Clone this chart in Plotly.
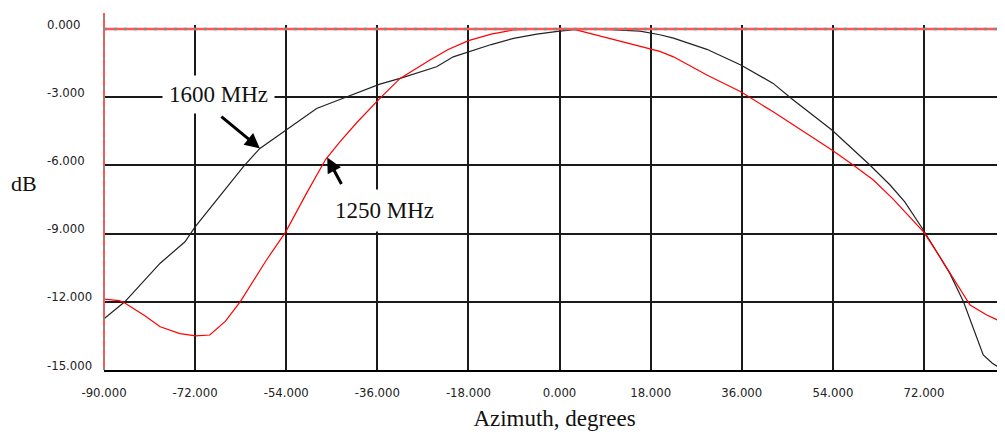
import plotly.graph_objects as go

# ---- data ----
az_1600 = [-90, -85.9, -78.9, -74, -72, -69.1, -65.5, -62.5, -59.2, -54, -48, -43.4, -39.5, -35.5,
           -31.5, -27.5, -24.3, -21, -18, -13.5, -9.1, -4.5, 0, 4, 10, 15.9, 19.8, 22.5, 29.1,
           35.8, 42.2, 45.8, 53.8, 61.3, 65.3, 68.2, 71.9, 77.1, 79.8, 81.7, 83.7, 85.5, 87.5]
db_1600 = [-12.75, -12.0, -10.3, -9.36, -8.7, -7.89, -6.9, -6.06, -5.25, -4.44, -3.49, -3.1, -2.75, -2.42,
           -2.17, -1.9, -1.66, -1.22, -1.0, -0.68, -0.41, -0.22, -0.09, 0.0, -0.02, -0.09, -0.25, -0.4, -0.89,
           -1.58, -2.39, -3.05, -4.44, -5.98, -6.86, -7.6, -8.85, -10.75, -12.0, -13.1, -14.34, -14.7, -15.0]

az_1250 = [-90, -87, -85.9, -82, -78.9, -75, -71.9, -69.1, -66, -63.1, -57.9, -54.1, -50, -46.2, -43.4,
           -40, -35.5, -31.5, -25.6, -22, -18, -13.5, -9.1, -4, 2.7, 7.3, 11.5, 15.9, 19.8, 22.5,
           29.1, 35.8, 42.2, 48.8, 53.8, 58.0, 62, 66, 68.5, 71.9, 74.5, 77.8, 81.1, 84.4, 88]
db_1250 = [-11.88, -11.95, -12.05, -12.6, -13.1, -13.4, -13.5, -13.46, -12.85, -12.0, -10.16, -8.92, -7.23, -5.73, -4.96,
           -4.1, -3.05, -2.17, -1.36, -0.9, -0.51, -0.22, -0.04, 0.0, 0.0, -0.26, -0.5, -0.75, -0.98, -1.22,
           -2.02, -2.76, -3.64, -4.59, -5.32, -5.98, -6.64, -7.5, -8.1, -8.92, -9.8, -10.97, -12.14, -12.58, -12.95]

x_ticks = [-90, -72, -54, -36, -18, 0, 18, 36, 54, 72]
x_labels = ["-90.000", "-72.000", "-54.000", "-36.000", "-18.000", "0.000", "18.000", "36.000", "54.000", "72.000"]
y_ticks = [0, -3, -6, -9, -12, -15]
y_labels = ["0.000", "-3.000", "-6.000", "-9.000", "-12.000", "-15.000"]

TICKFONT = dict(family="Liberation Sans Narrow, DejaVu Sans Condensed, Liberation Sans, Arial", size=13, color="#222")
SERIF = "Liberation Serif, Times New Roman, serif"
GRID = "#1a1a1a"

fig = go.Figure()
fig.add_trace(go.Scatter(x=az_1600, y=db_1600, mode="lines", line=dict(color="#222222", width=1.2),
                         name="1600 MHz", showlegend=False))
fig.add_trace(go.Scatter(x=az_1250, y=db_1250, mode="lines", line=dict(color="#ff0000", width=1.2),
                         name="1250 MHz", showlegend=False))

fig.update_layout(
    width=997, height=427,
    margin=dict(l=96, r=0, t=17, b=65),
    paper_bgcolor="white", plot_bgcolor="white",
    xaxis=dict(range=[-90, 88], tickmode="array", tickvals=x_ticks, ticktext=x_labels,
               showgrid=True, gridcolor=GRID, gridwidth=1.5, zeroline=False,
               showline=True, linecolor="black", linewidth=2, ticks="",
               tickfont=TICKFONT, ticklabelstandoff=9,
               title=dict(text="Azimuth, degrees", font=dict(family=SERIF, size=23, color="#111"), standoff=11)),
    yaxis=dict(range=[-15, 0.18], tickmode="array", tickvals=y_ticks, showticklabels=False,
               showgrid=True, gridcolor=GRID, gridwidth=1.5, zeroline=False, showline=False, ticks=""),
)

# y tick labels (left aligned, as in the reference)
for v, t in zip(y_ticks, y_labels):
    fig.add_annotation(x=0, xref="paper", y=v, yref="y", text=t, showarrow=False,
                       xanchor="left", yanchor="middle", xshift=-59, yshift=5, font=TICKFONT)

# red zero line with gray dashes, red left axis with gray dashes
fig.add_shape(type="line", xref="paper", x0=0, x1=1, yref="y", y0=0, y1=0,
              line=dict(color="#ff5555", width=2.5), layer="above")
fig.add_shape(type="line", xref="paper", x0=0, x1=1, yref="y", y0=0, y1=0,
              line=dict(color="#888888", width=2.5, dash="3px,7px"), layer="above")
fig.add_shape(type="line", xref="paper", x0=0, x1=0, yref="paper", y0=0, y1=1.035,
              line=dict(color="#ff5555", width=2), layer="above")
fig.add_shape(type="line", xref="paper", x0=0, x1=0, yref="paper", y0=0, y1=1.035,
              line=dict(color="#888888", width=2, dash="3px,7px"), layer="above")

# axis label dB
fig.add_annotation(x=0, xref="paper", xshift=-80, y=0.542, yref="paper", text="dB", showarrow=False,
                   font=dict(family=SERIF, size=22, color="#111"), xanchor="center", yanchor="middle")

# series labels
fig.add_annotation(x=-67.3, y=-2.86, text="1600 MHz", showarrow=False, bgcolor="white", borderpad=6,
                   font=dict(family=SERIF, size=23, color="#111"))
fig.add_annotation(x=-34.5, y=-8.0, text="1250 MHz", showarrow=False, bgcolor="white", borderpad=8,
                   font=dict(family=SERIF, size=23, color="#111"))
# arrows
fig.add_annotation(x=-59.2, y=-5.25, ax=-40, ay=-33, text="", showarrow=True,
                   arrowhead=2, arrowsize=1, arrowwidth=3, arrowcolor="black")
fig.add_annotation(x=-45.9, y=-5.65, ax=15, ay=28, text="", showarrow=True,
                   arrowhead=2, arrowsize=1, arrowwidth=3, arrowcolor="black")

fig.write_html("out.html")
